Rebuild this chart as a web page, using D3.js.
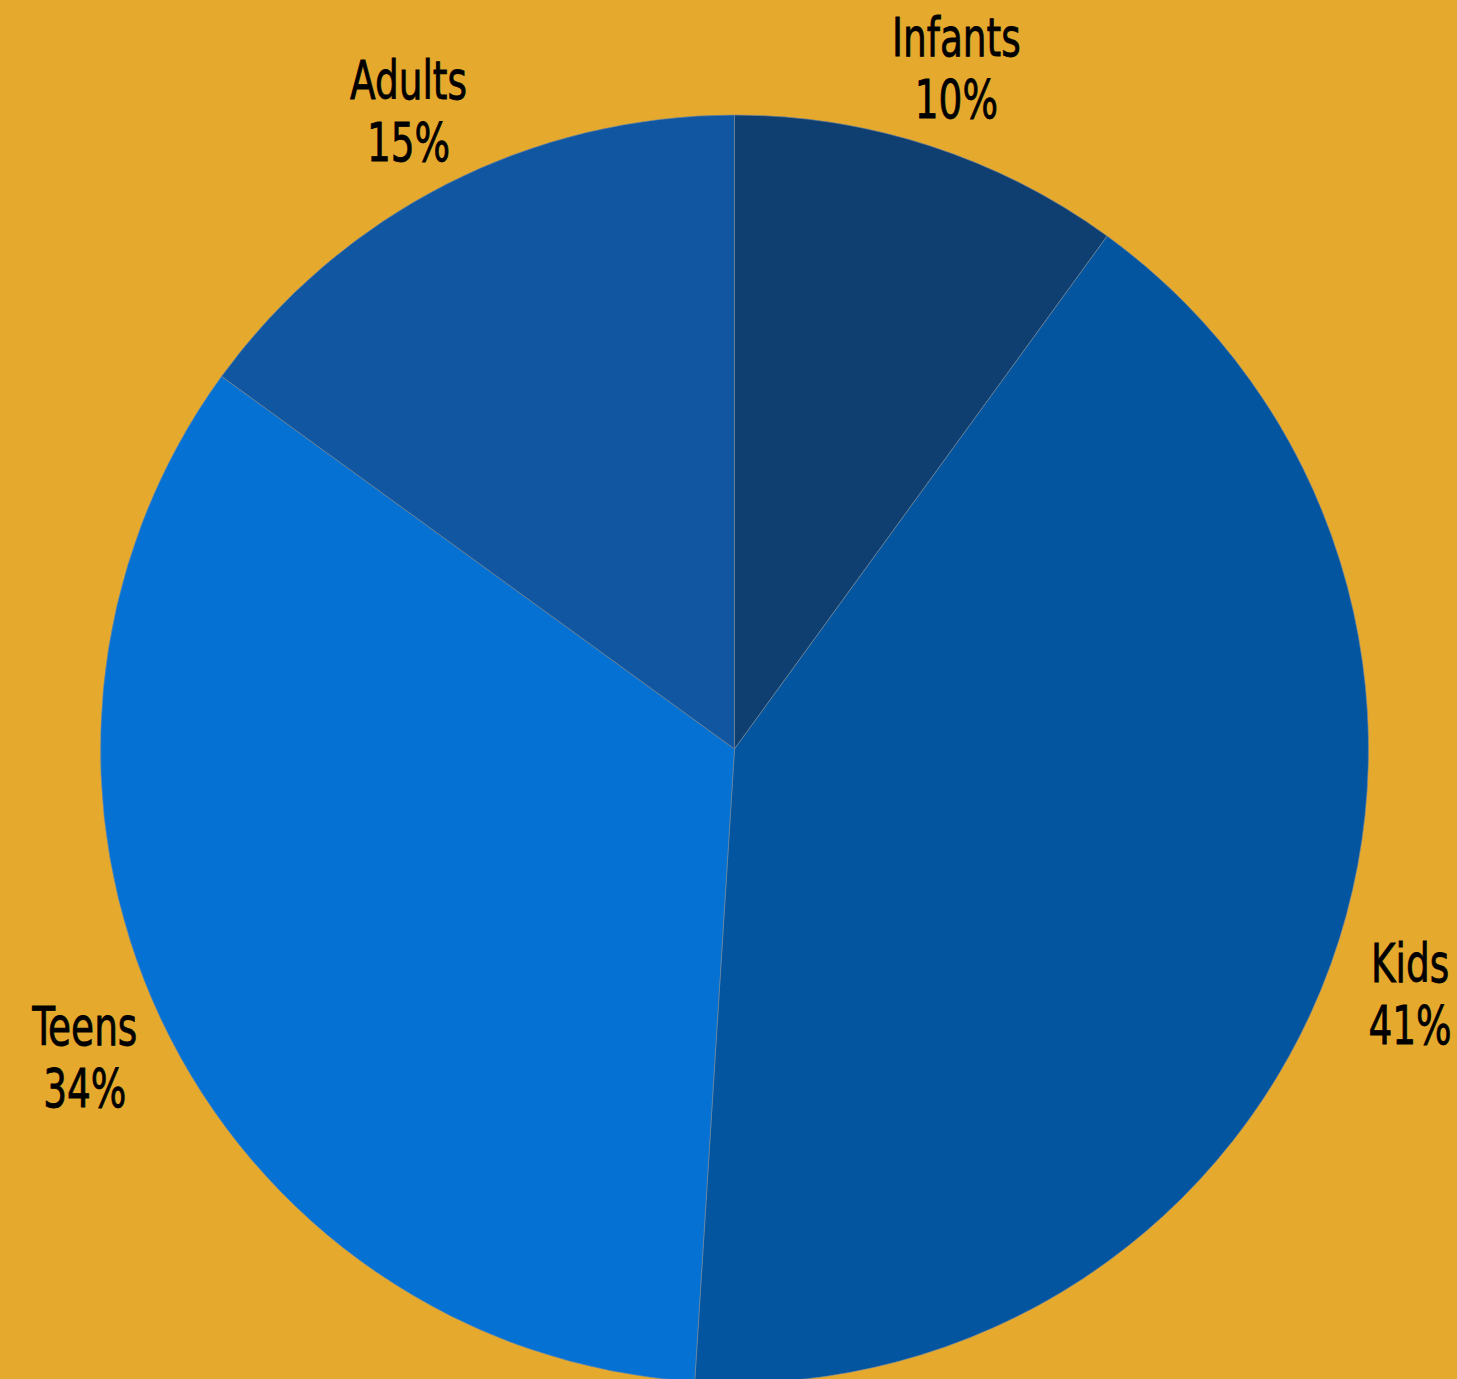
<!DOCTYPE html>
<html>
<head>
<meta charset="utf-8">
<script src="https://cdn.jsdelivr.net/npm/d3@7"></script>
<style>
    body { margin: 0; background: #e5a92e; }
    svg { display: block; }
    .label text { font-family: 'Liberation Sans Narrow', 'DejaVu Sans Condensed', 'Roboto', sans-serif; font-size: 54px; fill: #000; stroke: #000; stroke-width: 0.8px; }
</style>
</head>
<body>
<div class="container"></div>
<script>
var categories = ['Infants', 'Kids', 'Teens', 'Adults'];
var values = [10, 41, 34, 15];
var colors = ['#0f3e71', '#0455a0', '#0571d3', '#1056a0'];

var translate = function (x, y) {
    return 'translate(' + x + ', ' + y + ')';
};

var visualize = function () {
    const WIDTH = 1457;
    const HEIGHT = 1379;
    const CX = 734.5;
    const CY = 749;
    const RADIUS = 634;
    const LABEL_RADIUS = 718;

    var svg = d3.select('.container')
        .append('svg')
        .attr('width', WIDTH)
        .attr('height', HEIGHT);

    svg.append('rect')
        .attr('width', WIDTH)
        .attr('height', HEIGHT)
        .attr('fill', '#e5a92e');

    var data = categories.map(function (c, i) {
        return {name: c, value: values[i], color: colors[i]};
    });

    var pie = d3.pie().sort(null).value(function (d) { return d.value; });
    var arc = d3.arc().innerRadius(0).outerRadius(RADIUS);
    var labelArc = d3.arc().innerRadius(LABEL_RADIUS).outerRadius(LABEL_RADIUS);
    var total = d3.sum(values);

    var g = svg.append('g').attr('transform', translate(CX, CY));
    var arcs = pie(data);

    g.selectAll('path')
        .data(arcs)
        .enter()
        .append('path')
        .attr('d', arc)
        .attr('fill', function (d) { return d.data.color; })
        .attr('stroke', 'rgba(120,140,160,0.6)')
        .attr('stroke-width', 1);

    // labels sit just outside the rim, squeezed horizontally to look condensed
    var labels = g.selectAll('.label')
        .data(arcs)
        .enter()
        .append('g')
        .classed('label', true)
        .attr('transform', function (d) {
            var c = labelArc.centroid(d);
            return translate(c[0], c[1]) + ' scale(0.77, 1)';
        });

    labels.append('text')
        .attr('text-anchor', 'middle')
        .attr('y', -10)
        .text(function (d) { return d.data.name; });

    labels.append('text')
        .attr('text-anchor', 'middle')
        .attr('y', 52)
        .text(function (d) { return Math.round(d.data.value / total * 100) + '%'; });
};

window.onload = visualize;
</script>
</body>
</html>
